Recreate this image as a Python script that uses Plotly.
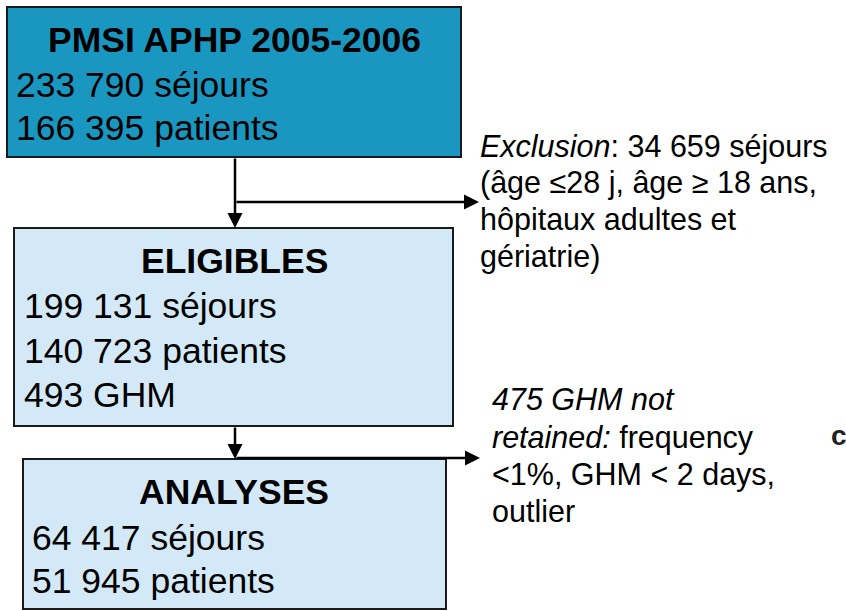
import plotly.graph_objects as go

# ---- data (flowchart content) ----
box_titles = ["PMSI APHP 2005-2006", "ELIGIBLES", "ANALYSES"]
box_lines = [
    ["233 790 séjours", "166 395 patients"],
    ["199 131 séjours", "140 723 patients", "493 GHM"],
    ["64 417 séjours", "51 945 patients"],
]
exclusion_lines = [
    "<i>Exclusion</i>: 34 659 séjours",
    "(âge ≤28 j, âge ≥ 18 ans,",
    "hôpitaux adultes et",
    "gériatrie)",
]
not_retained_lines = [
    "<i>475 GHM not</i>",
    "<i>retained:</i> frequency",
    "<1%, GHM < 2 days,",
    "outlier",
]

# ---- layout geometry (pixels) ----
W, H = 846, 611
FONT = "Liberation Sans, Arial, sans-serif"
boxes = [
    dict(x0=7, x1=461, y0=7, y1=157, fill="#1a97c1"),
    dict(x0=14, x1=453, y0=228, y1=426, fill="#d3e9f7"),
    dict(x0=23, x1=446, y0=459, y1=609, fill="#d3e9f7"),
]
title_baselines = [52, 273, 504]
line_left = [15, 23, 31]
line_baselines = [[97, 140], [318, 363, 407], [550, 593]]
BOX_FS = 35.5
SIDE_FS = 30.5

fig = go.Figure()
shapes = []
annotations = []


def text_at(x, baseline, text, size, anchor="left", bold=False, color="black"):
    yc = baseline - 0.3465 * size
    annotations.append(dict(
        x=x, y=yc, xref="x", yref="y", text=(f"<b>{text}</b>" if bold else text),
        showarrow=False, xanchor=anchor, yanchor="middle",
        font=dict(family=FONT, size=size, color=color), borderpad=0,
    ))


for i, b in enumerate(boxes):
    shapes.append(dict(type="rect", xref="x", yref="y", x0=b["x0"], x1=b["x1"],
                       y0=b["y0"], y1=b["y1"], fillcolor=b["fill"],
                       line=dict(color="#1a1a1a", width=2), layer="below"))
    text_at(234, title_baselines[i], box_titles[i], BOX_FS, anchor="center", bold=True)
    for t, yb in zip(box_lines[i], line_baselines[i]):
        text_at(line_left[i], yb, t, BOX_FS)

for t, yb in zip(exclusion_lines, [157, 193, 230, 267]):
    text_at(479, yb, t, SIDE_FS)
for t, yb in zip(not_retained_lines, [410, 448, 485, 522]):
    text_at(491, yb, t, SIDE_FS)

# partial letter at the right edge of the slide
text_at(830, 445, "c", 28, bold=True, color="#222222")


def arrow(x0, y0, x1, y1):
    annotations.append(dict(
        x=x1, y=y1, ax=x0, ay=y0, xref="x", yref="y", axref="x", ayref="y",
        text="", showarrow=True, arrowhead=2, arrowsize=1.2, arrowwidth=2.5,
        arrowcolor="black", standoff=0, startstandoff=0,
    ))


arrow(235, 157, 235, 228)
arrow(235, 202, 479, 202)
arrow(235, 426, 235, 459)
arrow(235, 458, 480, 458)

fig.update_layout(
    width=W, height=H, margin=dict(l=0, r=0, t=0, b=0),
    paper_bgcolor="white", plot_bgcolor="white",
    xaxis=dict(range=[0, W], visible=False, fixedrange=True),
    yaxis=dict(range=[H, 0], visible=False, fixedrange=True),
    shapes=shapes, annotations=annotations, showlegend=False,
)

fig.write_html("out.html", config={"displayModeBar": False},
               post_script="document.body.style.margin='0';")
